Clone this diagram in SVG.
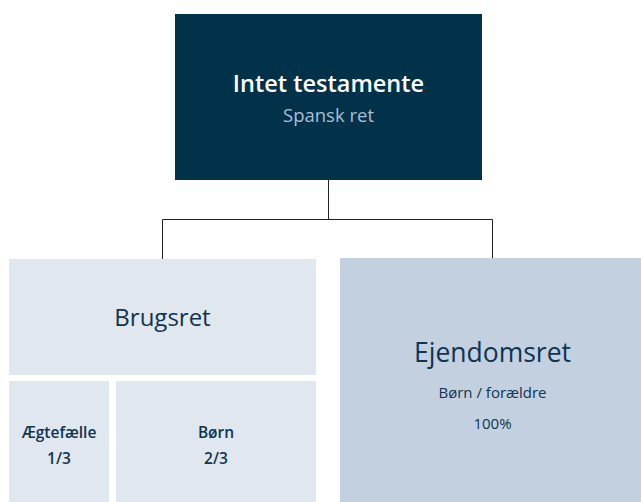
<svg xmlns="http://www.w3.org/2000/svg" width="641" height="502" viewBox="0 0 641 502">
<style>
text{font-family:"Open Sans","Noto Sans","Liberation Sans",sans-serif;text-anchor:middle}
.dark{fill:#02314a}
.light{fill:#e0e7ef}
.mid{fill:#c3d0e0}
.t{fill:#0e3552}
.sm{font-size:15.5px;font-weight:600}
.conn{stroke:#222;stroke-width:1;fill:none}
</style>
<rect width="641" height="502" fill="#ffffff"/>
<g id="connectors">
<path class="conn" d="M328.5 180V219.5M162.5 219.5H492.5M162.5 219.5V259M492.5 219.5V258"/>
</g>
<g id="root">
<rect class="dark" x="175" y="14" width="307" height="166"/>
<text x="328.5" y="92" font-size="23.5" font-weight="600" fill="#ffffff">Intet testamente</text>
<text x="328.5" y="122" font-size="18.5" fill="#a9bfd6">Spansk ret</text>
</g>
<g id="brugsret">
<rect class="light" x="9" y="259" width="307" height="116"/>
<text class="t" x="162.5" y="326" font-size="24">Brugsret</text>
</g>
<g id="aegtefaelle">
<rect class="light" x="9" y="381" width="100" height="121"/>
<text class="t sm" x="59" y="438">Ægtefælle</text>
<text class="t sm" x="59" y="464">1/3</text>
</g>
<g id="boern">
<rect class="light" x="116" y="381" width="200" height="121"/>
<text class="t sm" x="216" y="438">Børn</text>
<text class="t sm" x="216" y="464">2/3</text>
</g>
<g id="ejendomsret">
<rect class="mid" x="340" y="258" width="301" height="244"/>
<text class="t" x="492.5" y="362" font-size="26.5">Ejendomsret</text>
<text class="t" x="492.5" y="398" font-size="15">Børn / forældre</text>
<text class="t" x="492.5" y="429" font-size="15">100%</text>
</g>
</svg>
